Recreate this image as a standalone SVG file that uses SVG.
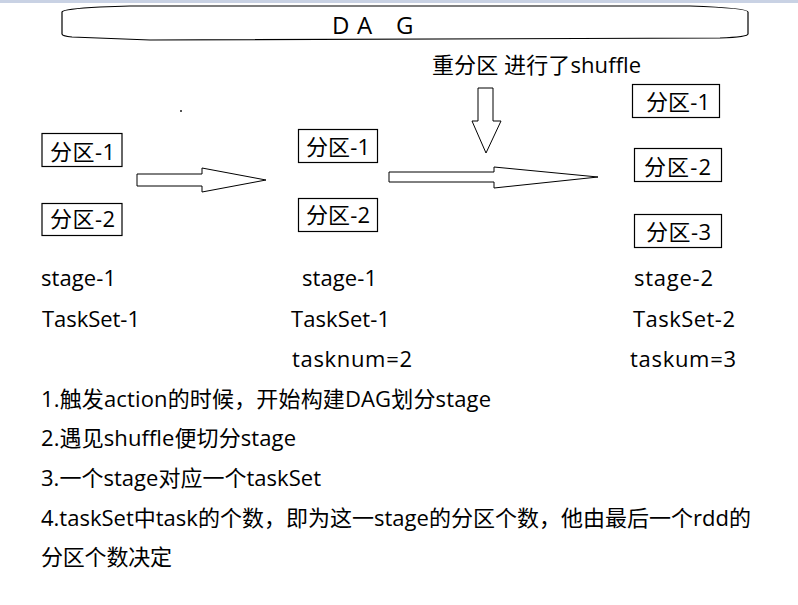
<svg xmlns="http://www.w3.org/2000/svg" width="798" height="605" viewBox="0 0 798 605">
<style>
text{font-family:"Open Sans","Noto Sans CJK SC",sans-serif;font-size:22px;fill:#000}
.title{font-size:24px}
.box{fill:#fff;stroke:#000;stroke-width:1.2}
.arrow{fill:#fff;stroke:#000;stroke-width:1}
</style>
<rect width="798" height="605" fill="#fff"/>
<rect x="0" y="0" width="798" height="3" fill="#c9d2e4"/>
<g id="dag-title">
<path d="M62,12 Q63,9 100,7 L130,6 L690,6 Q748,8 748,12 L748,34 Q748,37 720,38 L150,40 L72,37 Q62,36 62,34 Z" fill="#fff" stroke="#000" stroke-width="1.2"/>
<text class="title" x="332" y="34">D</text>
<text class="title" x="357" y="34">A</text>
<text class="title" x="396" y="34">G</text>
</g>
<g id="label-repartition">
<text x="432" y="73" textLength="209">重分区 进行了shuffle</text>
</g>
<rect x="180" y="110" width="2" height="2" fill="#555"/>
<g id="connectors">
<polygon class="arrow" points="137,174 202,174 202,168 266,180 202,192 202,186 137,186"/>
<polygon class="arrow" points="389,172 494,172 494,167 598,177 494,188 494,182 389,182"/>
<polygon class="arrow" points="478,88 493,88 493,121 501,121 486,153 472,121 478,121"/>
</g>
<g id="stage1a-p1">
<rect class="box" x="42" y="133.5" width="80" height="33"/>
<text x="50" y="159.5" textLength="65">分区-1</text>
</g>
<g id="stage1a-p2">
<rect class="box" x="42" y="203.5" width="80" height="32"/>
<text x="50" y="227" textLength="65">分区-2</text>
</g>
<g id="stage1b-p1">
<rect class="box" x="298.5" y="129.5" width="79" height="33"/>
<text x="306" y="155" textLength="64">分区-1</text>
</g>
<g id="stage1b-p2">
<rect class="box" x="298.5" y="198.5" width="79" height="33"/>
<text x="306" y="222.5" textLength="64">分区-2</text>
</g>
<g id="stage2-p1">
<rect class="box" x="632.5" y="84.5" width="87" height="33"/>
<text x="646" y="110" textLength="64">分区-1</text>
</g>
<g id="stage2-p2">
<rect class="box" x="634.5" y="148.5" width="87" height="33"/>
<text x="644" y="175" textLength="67">分区-2</text>
</g>
<g id="stage2-p3">
<rect class="box" x="634.5" y="214.5" width="87" height="33"/>
<text x="646" y="240" textLength="65">分区-3</text>
</g>
<g id="col1-labels">
<text x="41" y="286" textLength="75">stage-1</text>
<text x="42" y="326.5" textLength="98">TaskSet-1</text>
</g>
<g id="col2-labels">
<text x="302" y="286" textLength="75">stage-1</text>
<text x="291" y="326.5" textLength="99">TaskSet-1</text>
<text x="292" y="366.5" textLength="120">tasknum=2</text>
</g>
<g id="col3-labels">
<text x="634" y="286" textLength="79">stage-2</text>
<text x="633" y="326.5" textLength="102">TaskSet-2</text>
<text x="630" y="366.5" textLength="106">taskum=3</text>
</g>
<g id="notes">
<text x="41" y="406.5" textLength="450">1.触发action的时候，开始构建DAG划分stage</text>
<text x="41" y="446" textLength="255">2.遇见shuffle便切分stage</text>
<text x="41" y="485.5" textLength="280">3.一个stage对应一个taskSet</text>
<text x="41" y="526" textLength="710">4.taskSet中task的个数，即为这一stage的分区个数，他由最后一个rdd的</text>
<text x="41" y="564.5" textLength="131">分区个数决定</text>
</g>
</svg>
